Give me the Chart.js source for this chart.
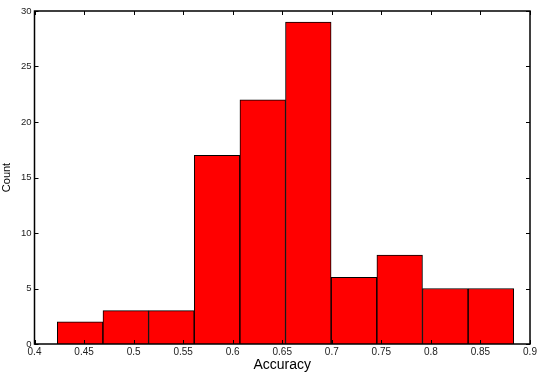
<!DOCTYPE html>
<html>
<head>
<meta charset="utf-8">
<script src="https://cdn.jsdelivr.net/npm/chart.js@4/dist/chart.umd.min.js"></script>
<style>
  html, body { margin: 0; padding: 0; background: #fff; }
  #wrap { width: 538px; height: 374px; position: relative; }
</style>
</head>
<body>
<div id="wrap"><canvas id="histChart"></canvas></div>
<script>
// bin centres (accuracy) and counts
const binCenters = [0.4460, 0.4921, 0.5381, 0.5842, 0.6303, 0.6763, 0.7224, 0.7685, 0.8145, 0.8606];
const counts = [2, 3, 3, 17, 22, 29, 6, 8, 5, 5];
const xTickValues = [0.4, 0.45, 0.5, 0.55, 0.6, 0.65, 0.7, 0.75, 0.8, 0.85, 0.9];
const yTickValues = [0, 5, 10, 15, 20, 25, 30];

const fontFamily = '"Liberation Sans", Arial, sans-serif';

// matplotlib-style frame with inward ticks on all four sides
const framePlugin = {
    id: 'frame',
    afterDraw(chart) {
        const { ctx, chartArea: a, scales } = chart;
        ctx.save();
        ctx.strokeStyle = '#000';
        ctx.lineWidth = 1;
        const tl = 4;
        xTickValues.forEach(v => {
            const px = Math.round(scales.x.getPixelForValue(v)) + 0.5;
            ctx.beginPath();
            ctx.moveTo(px, a.bottom); ctx.lineTo(px, a.bottom - tl);
            ctx.moveTo(px, a.top); ctx.lineTo(px, a.top + tl);
            ctx.stroke();
        });
        yTickValues.forEach(v => {
            const py = Math.round(scales.y.getPixelForValue(v)) + 0.5;
            ctx.beginPath();
            ctx.moveTo(a.left, py); ctx.lineTo(a.left + tl, py);
            ctx.moveTo(a.right, py); ctx.lineTo(a.right - tl, py);
            ctx.stroke();
        });
        ctx.lineWidth = 1.5;
        ctx.strokeRect(a.left, a.top, a.right - a.left, a.bottom - a.top);
        ctx.restore();
    }
};

const ctx = document.getElementById('histChart').getContext('2d');
new Chart(ctx, {
    type: 'bar',
    data: {
        datasets: [{
            data: binCenters.map((c, i) => ({ x: c, y: counts[i] })),
            backgroundColor: '#ff0000',
            borderColor: '#000',
            borderWidth: 1,
            barPercentage: 1,
            categoryPercentage: 1
        }]
    },
    options: {
        responsive: true,
        maintainAspectRatio: false,
        animation: false,
        layout: { padding: { top: 11, right: 8, left: 0, bottom: 0 } },
        plugins: {
            legend: { display: false },
            tooltip: { enabled: false }
        },
        scales: {
            x: {
                type: 'linear',
                offset: false,
                min: 0.4,
                max: 0.9,
                afterBuildTicks: scale => { scale.ticks = xTickValues.map(v => ({ value: v })); },
                afterFit: scale => {
                    scale.height = 30;
                    scale.paddingLeft = 0;
                    scale.paddingRight = 0;
                },
                grid: { display: false, drawTicks: false, offset: false },
                border: { display: false },
                ticks: {
                    padding: 2,
                    autoSkip: false,
                    maxRotation: 0,
                    color: '#222',
                    font: { family: fontFamily, size: 10 },
                    callback: v => String(Number(v.toFixed(2)))
                },
                title: {
                    display: true,
                    text: 'Accuracy',
                    color: '#000',
                    font: { family: fontFamily, size: 14 },
                    padding: { top: 0, bottom: 0 }
                }
            },
            y: {
                min: 0,
                max: 30,
                afterBuildTicks: scale => { scale.ticks = yTickValues.map(v => ({ value: v })); },
                afterFit: scale => {
                    scale.width = 34.5;
                    scale.paddingTop = 0;
                    scale.paddingBottom = 0;
                },
                grid: { display: false, drawTicks: false },
                border: { display: false },
                ticks: {
                    padding: 3,
                    color: '#222',
                    font: { family: fontFamily, size: 9.5 }
                },
                title: {
                    display: true,
                    text: 'Count',
                    color: '#000',
                    font: { family: fontFamily, size: 11 },
                    padding: { top: 0, bottom: 2 }
                }
            }
        }
    },
    plugins: [framePlugin]
});
</script>
</body>
</html>
